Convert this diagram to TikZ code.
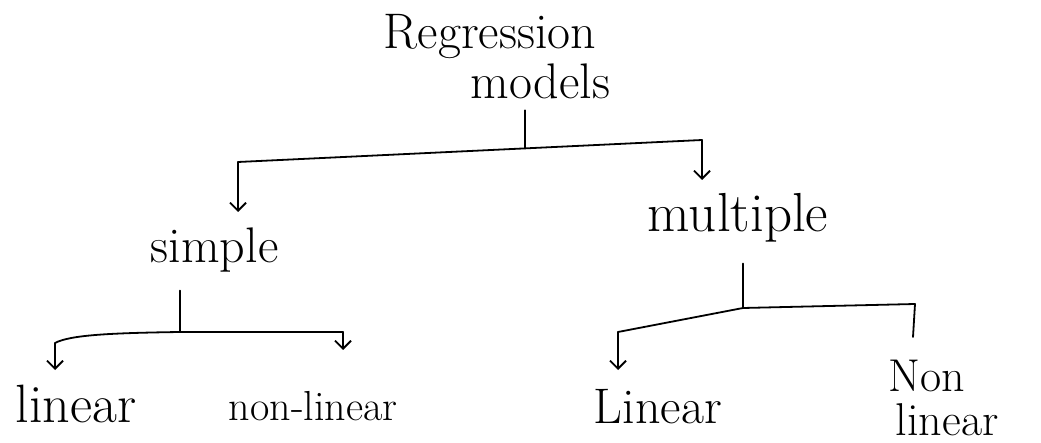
\documentclass[tikz,border=0pt]{standalone}
\usetikzlibrary{arrows.meta}
\begin{document}
\begin{tikzpicture}[x=1pt,y=-1pt, line width=1.8pt, line cap=round, line join=round,
  lbl/.style={inner sep=0pt, anchor=base west},
  arr/.style={-{Straight Barb[length=8pt,width=16pt]}}]
\useasboundingbox (0,0) rectangle (1041,443);
% texts
\node[inner sep=0pt, anchor=north west, align=left, font=\fontsize{50}{50}\selectfont] (root) at (383,13) {Regression\\\hspace*{87pt}models};
\node[lbl, font=\fontsize{50}{54}\selectfont] (simple) at (150,263) {simple};
\node[lbl, font=\fontsize{55}{60}\selectfont] (multiple) at (647,232) {multiple};
\node[lbl, font=\fontsize{54}{60}\selectfont] (lin1) at (15,422) {linear};
\node[lbl, font=\fontsize{42}{46}\selectfont] (nonlin1) at (228,420) {non-linear};
\node[lbl, font=\fontsize{50}{54}\selectfont] (lin2) at (593,423) {Linear};
\node[inner sep=0pt, anchor=north west, align=left, font=\fontsize{46}{44}\selectfont] (nonlin2) at (888,359) {Non\\\hspace*{7pt}linear};
% junctions
\coordinate (j0) at (525,148);
\coordinate (tl) at (238,162);
\coordinate (tr) at (702,140);
\coordinate (ta1) at (238,212);
\coordinate (ta2) at (702,180);
\coordinate (js) at (180,332);
\coordinate (sl) at (55,343);
\coordinate (sr) at (343,332);
\coordinate (sa1) at (55,370);
\coordinate (sa2) at (343,350);
\coordinate (jm) at (743,308);
\coordinate (ml) at (618,332);
\coordinate (mr) at (915,304);
\coordinate (ma1) at (618,370);
\coordinate (ma2) at (913,337);
% connectors
\draw[shorten <=11pt] (root.south -| j0) -- (j0);
\draw (tl) -- (tr);
\draw[arr] (tl) -- (ta1);
\draw[arr] (tr) -- (ta2);
\draw[shorten <=17pt] (simple.south -| js) -- (js);
\draw (sr) -- (js) .. controls (110,333) and (70,335) .. (sl);
\draw[arr] (sl) -- (sa1);
\draw[arr] (sr) -- (sa2);
\draw[shorten <=20pt] (multiple.south -| jm) -- (jm);
\draw (ml) -- (jm) -- (mr);
\draw[arr] (ml) -- (ma1);
\draw (mr) -- (ma2);
\end{tikzpicture}
\end{document}
